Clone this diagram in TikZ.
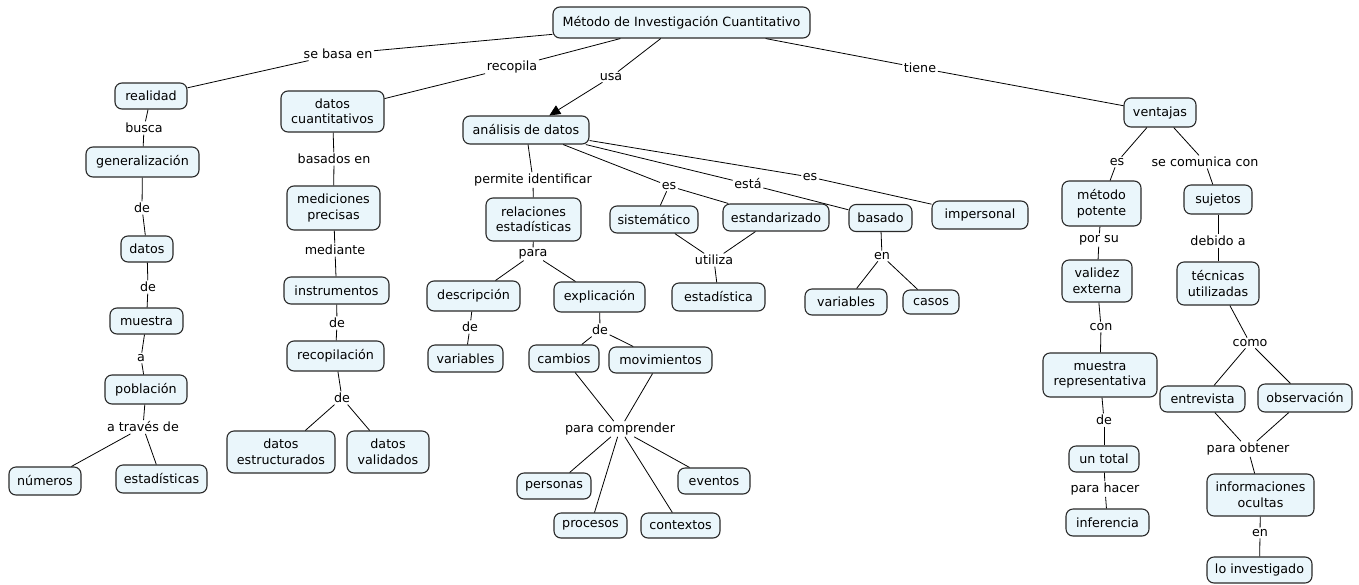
\documentclass[tikz,border=0pt]{standalone}
\usepackage{fontspec}
\setmainfont{DejaVu Sans}
\usetikzlibrary{arrows.meta}
\definecolor{cfill}{HTML}{EAF6FB}
\definecolor{cline}{HTML}{2A2A2A}
\tikzset{
  cbox/.style={draw=cline, line width=1.1pt, fill=cfill, rounded corners=7pt,
    align=center, inner sep=2pt, font=\fontsize{12.7}{15.5}\selectfont},
  lbl/.style={inner sep=1.5pt, font=\fontsize{12.7}{15.5}\selectfont},
  con/.style={draw=black, line width=0.8pt},
  arr/.style={con, -{Triangle[length=11pt,width=10pt]}}
}
\newcommand{\cn}[5]{\node[cbox, minimum width=#4pt, minimum height=#5pt] (#1) at (#2,#3)}
\begin{document}
\begin{tikzpicture}[x=1pt,y=-1pt]
\useasboundingbox (0,0) rectangle (1359,584);
% concept nodes
\cn{metodo}{681.5}{22.5}{257}{31} {Método de Investigación Cuantitativo};
\cn{realidad}{151}{96}{72}{26} {realidad};
\cn{general}{142.5}{162}{113}{30} {generalización};
\cn{datoscuant}{332.5}{111.5}{103}{41} {datos\\cuantitativos};
\cn{mediciones}{333.5}{208}{93}{44} {mediciones\\precisas};
\cn{datos}{147}{249}{52}{26} {datos};
\cn{muestra}{146.5}{321}{73}{26} {muestra};
\cn{poblacion}{146}{389.5}{82}{29} {población};
\cn{instrumentos}{336.5}{290.5}{105}{27} {instrumentos};
\cn{recopilacion}{335.5}{356}{97}{30} {recopilación};
\cn{numeros}{45}{481}{72}{28} {números};
\cn{estadisticas}{161.5}{479}{91}{28} {estadísticas};
\cn{datosestr}{281}{452}{108}{42} {datos\\estructurados};
\cn{datosval}{388}{452}{82}{42} {datos\\validados};
\cn{analisis}{526}{130}{126}{28} {análisis de datos};
\cn{relaciones}{533.5}{219.5}{95}{43} {relaciones\\estadísticas};
\cn{sistematico}{654}{219.5}{88}{27} {sistemático};
\cn{estandarizado}{776}{217.5}{106}{27} {estandarizado};
\cn{basado}{880.5}{218}{63}{27} {basado};
\cn{impersonal}{980}{215}{96}{28} {impersonal};
\cn{descripcion}{473.5}{296}{93}{30} {descripción};
\cn{explicacion}{599.5}{297}{91}{30} {explicación};
\cn{estadistica}{718.5}{297}{93}{28} {estadística};
\cn{variablesR}{846}{302}{82}{26} {variables};
\cn{casos}{931}{302}{56}{24} {casos};
\cn{variablesL}{465.5}{358.5}{75}{27} {variables};
\cn{cambios}{564}{358.5}{70}{27} {cambios};
\cn{movimientos}{660.5}{360}{103}{26} {movimientos};
\cn{personas}{554}{486}{74}{26} {personas};
\cn{procesos}{590.5}{525.5}{73}{25} {procesos};
\cn{contextos}{680.5}{525.5}{79}{25} {contextos};
\cn{eventos}{714}{481}{72}{26} {eventos};
\cn{ventajas}{1160}{112.5}{72}{29} {ventajas};
\cn{metodopot}{1101.5}{203.5}{79}{45} {método\\potente};
\cn{sujetos}{1218}{199.5}{68}{29} {sujetos};
\cn{validez}{1097}{281}{70}{42} {validez\\externa};
\cn{tecnicas}{1218}{283.5}{82}{43} {técnicas\\utilizadas};
\cn{muestrarep}{1100}{375}{114}{44} {muestra\\representativa};
\cn{entrevista}{1202.5}{399}{85}{26} {entrevista};
\cn{observacion}{1305}{398}{94}{28} {observación};
\cn{untotal}{1104}{459}{70}{26} {un total};
\cn{informaciones}{1260.5}{495}{107}{42} {informaciones\\ocultas};
\cn{inferencia}{1107.5}{522.5}{83}{27} {inferencia};
\cn{loinvestigado}{1259.5}{570}{105}{26} {lo investigado};
% linking phrases
\node[lbl] (sebasa) at (338,54) {se basa en};
\node[lbl] (recopila) at (512,67) {recopila};
\node[lbl] (usa) at (611,77) {usa};
\node[lbl] (tiene) at (920,68) {tiene};
\node[lbl] (busca) at (144,128) {busca};
\node[lbl] (deG) at (142,208) {de};
\node[lbl] (deD) at (148,287) {de};
\node[lbl] (a) at (141,358) {a};
\node[lbl] (atraves) at (143,427) {a través de};
\node[lbl] (basados) at (334,159) {basados en};
\node[lbl] (mediante) at (335,250) {mediante};
\node[lbl] (deI) at (337,323) {de};
\node[lbl] (deR) at (342,398) {de};
\node[lbl] (permite) at (533,180) {permite identificar};
\node[lbl] (esA) at (669,186) {es};
\node[lbl] (esta) at (748,184) {está};
\node[lbl] (esB) at (810,177) {es};
\node[lbl] (para) at (533,254) {para};
\node[lbl] (utiliza) at (714,260) {utiliza};
\node[lbl] (en) at (882,256) {en};
\node[lbl] (deDesc) at (470,327) {de};
\node[lbl] (deExp) at (600,330) {de};
\node[lbl] (paracomp) at (620,429) {para comprender};
\node[lbl] (esV) at (1117,162) {es};
\node[lbl] (secom) at (1205,162) {se comunica con};
\node[lbl] (porsu) at (1099,240) {por su};
\node[lbl] (debido) at (1218,241) {debido a};
\node[lbl] (con) at (1101,327) {con};
\node[lbl] (como) at (1250,343) {como};
\node[lbl] (deM) at (1104,420) {de};
\node[lbl] (paraob) at (1248,449) {para obtener};
\node[lbl] (parahacer) at (1105,489) {para hacer};
\node[lbl] (enI) at (1260,533) {en};
% connectors
\draw[con] (metodo) -- (sebasa);   \draw[con] (sebasa) -- (realidad);
\draw[con] (metodo) -- (recopila); \draw[con] (recopila) -- (datoscuant);
\draw[con] (metodo) -- (usa);      \draw[arr] (usa) -- (analisis);
\draw[con] (metodo) -- (tiene);    \draw[con] (tiene) -- (ventajas);
\draw[con] (realidad) -- (busca);  \draw[con] (busca) -- (general);
\draw[con] (general) -- (deG);     \draw[con] (deG) -- (datos);
\draw[con] (datos) -- (deD);       \draw[con] (deD) -- (muestra);
\draw[con] (muestra) -- (a);       \draw[con] (a) -- (poblacion);
\draw[con] (poblacion) -- (atraves);
\draw[con] (atraves) -- (numeros); \draw[con] (atraves) -- (estadisticas);
\draw[con] (datoscuant) -- (basados); \draw[con] (basados) -- (mediciones);
\draw[con] (mediciones) -- (mediante); \draw[con] (mediante) -- (instrumentos);
\draw[con] (instrumentos) -- (deI); \draw[con] (deI) -- (recopilacion);
\draw[con] (recopilacion) -- (deR);
\draw[con] (deR) -- (datosestr);   \draw[con] (deR) -- (datosval);
\draw[con] (analisis) -- (permite); \draw[con] (permite) -- (relaciones);
\draw[con] (analisis) -- (esA);
\draw[con] (esA) -- (sistematico); \draw[con] (esA) -- (estandarizado);
\draw[con] (analisis) -- (esta);   \draw[con] (esta) -- (basado);
\draw[con] (analisis) -- (esB);    \draw[con] (esB) -- (impersonal);
\draw[con] (relaciones) -- (para);
\draw[con] (para) -- (descripcion); \draw[con] (para) -- (explicacion);
\draw[con] (sistematico) -- (utiliza); \draw[con] (estandarizado) -- (utiliza);
\draw[con] (utiliza) -- (estadistica);
\draw[con] (basado) -- (en);
\draw[con] (en) -- (variablesR);   \draw[con] (en) -- (casos);
\draw[con] (descripcion) -- (deDesc); \draw[con] (deDesc) -- (variablesL);
\draw[con] (explicacion) -- (deExp);
\draw[con] (deExp) -- (cambios);   \draw[con] (deExp) -- (movimientos);
\draw[con] (cambios) -- (paracomp); \draw[con] (movimientos) -- (paracomp);
\draw[con] (paracomp) -- (personas); \draw[con] (paracomp) -- (procesos);
\draw[con] (paracomp) -- (contextos); \draw[con] (paracomp) -- (eventos);
\draw[con] (ventajas) -- (esV);    \draw[con] (esV) -- (metodopot);
\draw[con] (ventajas) -- (secom);  \draw[con] (secom) -- (sujetos);
\draw[con] (metodopot) -- (porsu); \draw[con] (porsu) -- (validez);
\draw[con] (sujetos) -- (debido);  \draw[con] (debido) -- (tecnicas);
\draw[con] (validez) -- (con);     \draw[con] (con) -- (muestrarep);
\draw[con] (tecnicas) -- (como);
\draw[con] (como) -- (entrevista); \draw[con] (como) -- (observacion);
\draw[con] (muestrarep) -- (deM);  \draw[con] (deM) -- (untotal);
\draw[con] (entrevista) -- (paraob); \draw[con] (observacion) -- (paraob);
\draw[con] (paraob) -- (informaciones);
\draw[con] (untotal) -- (parahacer); \draw[con] (parahacer) -- (inferencia);
\draw[con] (informaciones) -- (enI); \draw[con] (enI) -- (loinvestigado);
\end{tikzpicture}
\end{document}
